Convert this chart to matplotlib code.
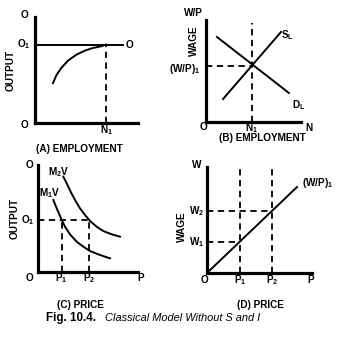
import matplotlib
matplotlib.use("Agg")
import matplotlib.pyplot as plt

plt.rcParams['font.family'] = ['Liberation Sans', 'DejaVu Sans']
plt.rcParams['font.weight'] = 'bold'
plt.rcParams['mathtext.default'] = 'regular'

# ---- data (arbitrary 0-10 units per panel) ----
# Panel A: production function
emp_a = [1.75, 2.07, 2.55, 3.2, 4.01, 4.82, 5.63, 6.44, 6.9]
out_a = [3.77, 4.5, 5.19, 5.88, 6.44, 6.82, 7.08, 7.24, 7.4]
O1_a = 7.4
N1_a = 6.9
o_line_end = 8.5

# Panel B: labour market
sl_x = [1.79, 7.89]
sl_y = [2.25, 8.82]
dl_x = [1.16, 8.74]
dl_y = [8.33, 2.84]
N1_b = 4.84
WP1_b = 5.49

# Panel C: quantity theory curves
m1v_x = [1.53, 1.87, 2.3, 2.7, 3.2, 3.87, 4.53, 5.2, 6.03, 6.7, 7.2]
m1v_y = [6.73, 5.95, 5.02, 4.23, 3.52, 2.83, 2.37, 1.96, 1.65, 1.43, 1.28]
m2v_x = [2.53, 2.87, 3.27, 3.7, 4.2, 4.7, 5.2, 5.87, 6.53, 7.37, 8.2]
m2v_y = [8.91, 8.29, 7.5, 6.73, 5.95, 5.33, 4.77, 4.23, 3.83, 3.52, 3.3]
O1_c = 4.86
P1_c = 2.37
P2_c = 5.1

# Panel D: money wage vs price
wp_x = [0, 8.57]
wp_y = [0, 8.11]
P1_d = 3.14
P2_d = 6.19
W1_d = 2.95
W2_d = 5.82

FS = 7.2
W, H = 348, 342
fig = plt.figure(figsize=(W / 100, H / 100), dpi=100)


def make_ax(x0, x1, ytop, ybot):
    ax = fig.add_axes([x0 / W, (H - ybot) / H, (x1 - x0) / W, (ybot - ytop) / H])
    ax.set_xlim(0, 10)
    ax.set_ylim(0, 10)
    ax.set_xticks([])
    ax.set_yticks([])
    for s in ('top', 'right'):
        ax.spines[s].set_visible(False)
    for s in ('left', 'bottom'):
        ax.spines[s].set_linewidth(2.3)
        ax.spines[s].set_capstyle('projecting')
    ax.patch.set_alpha(0)
    return ax


def txt(ax, x, y, s, **kw):
    kw.setdefault('ha', 'center')
    kw.setdefault('va', 'center')
    kw.setdefault('fontsize', FS)
    kw.setdefault('fontweight', 'bold')
    ax.text(x, y, s, clip_on=False, **kw)


dash = dict(color='black', lw=1.3, ls=(0, (3.5, 2.5)))
solid = dict(color='black', lw=1.4)

# ---- Panel A ----
ax = make_ax(35, 138, 17, 123)
ax.plot(emp_a, out_a, **solid)
ax.plot([0, o_line_end], [O1_a, O1_a], **solid)
ax.plot([N1_a, N1_a], [0, O1_a], **dash)
txt(ax, -1.0, 10.2, 'O')
txt(ax, -1.05, O1_a, 'O$_1$')
txt(ax, 9.2, O1_a, 'O')
txt(ax, -1.0, -0.2, 'O')
txt(ax, N1_a, -0.7, 'N$_1$')
txt(ax, 4.3, -2.45, '(A) EMPLOYMENT')
txt(ax, -2.4, 5.0, 'OUTPUT', rotation=90)

# ---- Panel B ----
ax = make_ax(206, 301, 20, 122)
ax.plot(sl_x, sl_y, **solid)
ax.plot(dl_x, dl_y, **solid)
ax.plot([N1_b, N1_b], [0, 9.7], **dash)
ax.plot([0, N1_b], [WP1_b, WP1_b], **dash)
txt(ax, -1.3, 10.7, 'W/P')
txt(ax, -1.3, 8.0, 'WAGE', rotation=90)
txt(ax, -0.6, 5.2, '(W/P)$_1$', ha='right')
txt(ax, -0.3, -0.5, 'O')
txt(ax, N1_b, -0.55, 'N$_1$')
txt(ax, 10.8, -0.55, 'N')
txt(ax, 8.6, 8.5, 'S$_L$')
txt(ax, 9.8, 1.7, 'D$_L$')
txt(ax, 5.9, -1.58, '(B) EMPLOYMENT')

# ---- Panel C ----
ax = make_ax(38, 138, 165, 272)
ax.plot(m1v_x, m1v_y, **solid)
ax.plot(m2v_x, m2v_y, **solid)
ax.plot([0, P2_c], [O1_c, O1_c], **dash)
ax.plot([P1_c, P1_c], [0, O1_c], **dash)
ax.plot([P2_c, P2_c], [0, O1_c], **dash)
txt(ax, -0.8, 10.0, 'O')
txt(ax, -1.0, O1_c, 'O$_1$')
txt(ax, -0.8, -0.56, 'O')
txt(ax, P1_c, -0.6, 'P$_1$')
txt(ax, P2_c, -0.6, 'P$_2$')
txt(ax, 10.3, -0.56, 'P')
txt(ax, 2.1, 9.35, 'M$_2$V')
txt(ax, 1.2, 7.4, 'M$_1$V')
txt(ax, 4.2, -3.1, '(C) PRICE')
txt(ax, -2.3, 5.0, 'OUTPUT', rotation=90)

# ---- Panel D ----
ax = make_ax(207, 312, 167, 273)
ax.plot(wp_x, wp_y, **solid)
ax.plot([P1_d, P1_d], [0, 9.9], **dash)
ax.plot([P2_d, P2_d], [0, 9.9], **dash)
ax.plot([0, P2_d], [W2_d, W2_d], **dash)
ax.plot([0, P1_d], [W1_d, W1_d], **dash)
txt(ax, -0.95, 10.2, 'W')
txt(ax, -1.0, W2_d, 'W$_2$')
txt(ax, -1.0, W1_d, 'W$_1$')
txt(ax, -0.2, -0.66, 'O')
txt(ax, P1_d, -0.66, 'P$_1$')
txt(ax, P2_d, -0.66, 'P$_2$')
txt(ax, 9.9, -0.66, 'P')
txt(ax, 9.0, 8.5, '(W/P)$_1$', ha='left')
txt(ax, 5.1, -3.0, '(D) PRICE')
txt(ax, -2.4, 4.4, 'WAGE', rotation=90)

# ---- caption ----
fig.text(46 / W, 1 - 318 / H, 'Fig. 10.4.', fontsize=8.4, fontweight='bold',
         ha='left', va='center')
fig.text(105 / W, 1 - 318 / H, 'Classical Model Without S and I', fontsize=7.9,
         fontweight='normal', style='italic', ha='left', va='center')

fig.savefig('out.png', dpi=100, facecolor='white')
